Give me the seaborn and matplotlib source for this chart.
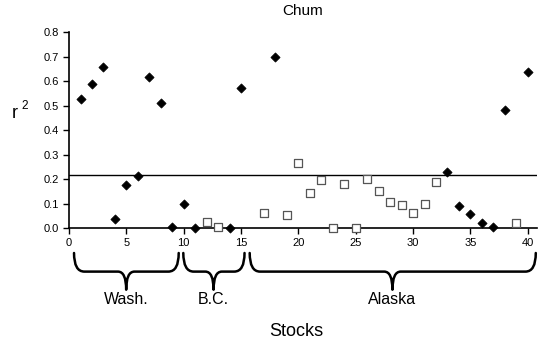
import matplotlib
matplotlib.use("Agg")
import matplotlib.pyplot as plt
import matplotlib.transforms as mtransforms
from matplotlib.path import Path
from matplotlib.patches import PathPatch
import seaborn as sns
import pandas as pd

# ---- data ----
diamond_x = [1, 2, 3, 4, 5, 6, 7, 8, 9, 10, 11, 14, 15, 18, 33, 34, 35, 36, 37, 38, 40]
diamond_y = [0.53, 0.59, 0.66, 0.04, 0.178, 0.215, 0.618, 0.511, 0.005, 0.098, 0.0, 0.0,
             0.574, 0.70, 0.231, 0.090, 0.057, 0.023, 0.005, 0.483, 0.638]
square_x = [12, 13, 17, 19, 20, 21, 22, 23, 24, 25, 26, 27, 28, 29, 30, 31, 32, 39]
square_y = [0.027, 0.005, 0.064, 0.053, 0.268, 0.144, 0.197, 0.0, 0.179, 0.0, 0.200,
            0.154, 0.107, 0.096, 0.062, 0.100, 0.189, 0.023]
threshold = 0.218
x_ticks = [0, 5, 10, 15, 20, 25, 30, 35, 40]
y_ticks = [0.0, 0.1, 0.2, 0.3, 0.4, 0.5, 0.6, 0.7, 0.8]
groups = ["Wash.", "B.C.", "Alaska"]
group_start = [0.43, 9.96, 15.75]
group_end = [9.56, 15.3, 40.7]
group_center = [4.98, 12.6, 28.2]

sns.set_theme(style="ticks")
plt.rcParams["font.family"] = ["Liberation Sans", "DejaVu Sans"]
plt.rcParams["text.color"] = "black"
plt.rcParams["xtick.color"] = "black"
plt.rcParams["ytick.color"] = "black"
plt.rcParams["xtick.labelcolor"] = "black"
plt.rcParams["ytick.labelcolor"] = "black"

fig = plt.figure(figsize=(5.44, 3.41), dpi=100)
ax = fig.add_axes([0.127, 0.3305, 0.987 - 0.127, 0.905 - 0.3305])

df_d = pd.DataFrame({"stock": diamond_x, "r2": diamond_y})
df_s = pd.DataFrame({"stock": square_x, "r2": square_y})

sns.scatterplot(data=df_d, x="stock", y="r2", marker="D", s=22, color="black",
                edgecolor="black", linewidth=0.5, ax=ax, zorder=4, clip_on=False)
sns.scatterplot(data=df_s, x="stock", y="r2", marker="s", s=30, color="white",
                edgecolor="#555555", linewidth=0.9, ax=ax, zorder=4, clip_on=False)

ax.axhline(threshold, color="black", lw=1.0, zorder=3)

ax.set_xlim(0, 40.8)
ax.set_ylim(0, 0.8)
ax.set_xticks(x_ticks)
ax.set_yticks(y_ticks)
ax.set_yticklabels([f"{v:.1f}" for v in y_ticks])
ax.tick_params(axis="both", labelsize=8, length=4, width=1, color="black",
               labelcolor="black", pad=3)
ax.set_xlabel("")
ax.set_ylabel("")
for side in ["top", "right"]:
    ax.spines[side].set_visible(False)
for side in ["left", "bottom"]:
    ax.spines[side].set_linewidth(1.2)
    ax.spines[side].set_color("black")
ax.grid(False)

# title and axis labels
fig.text(303 / 544, 1 - 11 / 341, "Chum", ha="center", va="center", fontsize=11)
fig.text(15 / 544, 1 - 114 / 341, "r", ha="center", va="center", fontsize=13)
fig.text(25 / 544, 1 - 106 / 341, "2", ha="center", va="center", fontsize=8.5)
fig.text(296 / 544, 1 - 331 / 341, "Stocks", ha="center", va="center", fontsize=13)

# braces
trans = mtransforms.blended_transform_factory(ax.transData, fig.transFigure)
ytop, ymid, ybot = 1 - 253 / 341, 1 - 271.6 / 341, 1 - 289.7 / 341
r = 0.9
for name, x0, x1, xc in zip(groups, group_start, group_end, group_center):
    verts = [(x0, ytop), (x0, ymid), (x0 + r, ymid),
             (xc - r * 0.8, ymid),
             (xc, ymid), (xc, ybot),
             (xc, ymid), (xc + r * 0.8, ymid),
             (x1 - r, ymid),
             (x1, ymid), (x1, ytop)]
    codes = [Path.MOVETO, Path.CURVE3, Path.CURVE3,
             Path.LINETO,
             Path.CURVE3, Path.CURVE3,
             Path.CURVE3, Path.CURVE3,
             Path.LINETO,
             Path.CURVE3, Path.CURVE3]
    patch = PathPatch(Path(verts, codes), transform=trans, fill=False,
                      lw=1.8, color="black", clip_on=False, capstyle="round",
                      joinstyle="round")
    fig.add_artist(patch)
    ax.text(xc, 1 - 299.5 / 341, name, ha="center", va="center", fontsize=11.5,
            transform=trans)

fig.savefig("out.png", dpi=100)
